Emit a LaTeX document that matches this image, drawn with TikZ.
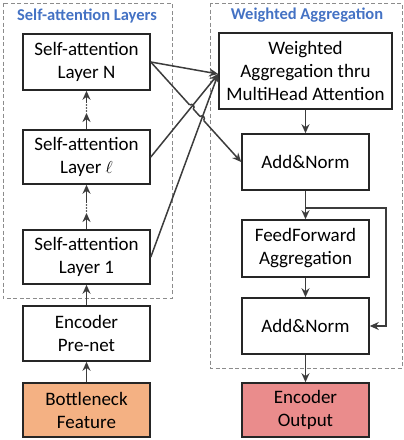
\documentclass[tikz,border=0pt]{standalone}
\usepackage{fontspec}
\setmainfont{Carlito}
\definecolor{hdblue}{RGB}{68,114,196}
\definecolor{bnorange}{RGB}{244,177,131}
\definecolor{outred}{RGB}{234,140,140}
\definecolor{lngray}{RGB}{60,60,60}
\definecolor{frgray}{RGB}{140,140,140}
\usetikzlibrary{arrows.meta,positioning,calc,intersections}
\begin{document}
\begin{tikzpicture}[x=1pt, y=-1pt,
  blk/.style={draw=black!85, line width=1.6pt, fill=white, minimum width=127pt, minimum height=56pt, inner sep=0pt, align=center, font=\fontsize{19}{23}\selectfont},
  conn/.style={draw=lngray, line width=1.5pt},
  arr/.style={conn, -{Stealth[length=9pt,width=8pt]}},
  frame/.style={draw=frgray, line width=0.8pt, dash pattern=on 4pt off 2.5pt},
  hdr/.style={text=hdblue, font=\fontsize{16.5}{20}\selectfont\bfseries}]
  \useasboundingbox (0,0) rectangle (404,440);
  \draw[frame] (3,3) rectangle (172,298);
  \draw[frame] (210,3) rectangle (402,368);
  \node[hdr] (hdL) at (87,16) {Self-attention Layers};
  \node[hdr] (hdR) at (307,15) {Weighted Aggregation};
  \node[blk] (saN) at (86.5,62) {Self-attention\\Layer N};
  \node[blk, minimum height=54pt] (saL) at (86.5,157) {Self-attention\\Layer \ensuremath{\ell}};
  \node[blk, minimum height=54pt] (sa1) at (86.5,257) {Self-attention\\Layer 1};
  \node[blk, minimum height=55pt] (prenet) at (86.5,333.5) {Encoder\\Pre-net};
  \node[blk, minimum height=54pt, fill=bnorange] (bneck) at (86.5,410) {Bottleneck\\Feature};
  \node[blk, minimum width=173pt, minimum height=76pt] (wagg) at (305.5,71) {Weighted\\Aggregation thru\\MultiHead Attention};
  \node[blk] (an1) at (305.5,162) {Add\&Norm};
  \node[blk, minimum height=57pt] (ff) at (305.5,248.5) {FeedForward\\Aggregation};
  \node[blk] (an2) at (305.5,326) {Add\&Norm};
  \node[blk, minimum height=54pt, fill=outred] (out) at (305.5,410) {Encoder\\Output};
  \coordinate (dLlo) at (86.5,113);
  \coordinate (dLhi) at (86.5,103);
  \coordinate (d1lo) at (86.5,213);
  \coordinate (d1hi) at (86.5,203);
  \draw[arr] (saL) -- (dLlo);
  \fill[lngray] (86.5,105) circle (0.8pt) (86.5,108) circle (0.8pt) (86.5,111) circle (0.8pt);
  \draw[arr] (dLhi) -- (saN);
  \draw[arr] (sa1) -- (d1lo);
  \fill[lngray] (86.5,205) circle (0.8pt) (86.5,208) circle (0.8pt) (86.5,211) circle (0.8pt);
  \draw[arr] (d1hi) -- (saL);
  \draw[arr] (prenet) -- (sa1);
  \draw[arr] (bneck) -- (prenet);
  \coordinate (wIn) at ($(wagg.west)+(0,3)$);
  \path[name path=lnN] (saN.east) -- (an1.west);
  \path[name path=lnL] (saL.east) -- (wIn);
  \path[name path=ln1] (sa1.east) -- (wIn);
  \path[name intersections={of=lnN and lnL, by=hopa}];
  \path[name intersections={of=lnN and ln1, by=hopb}];
  \draw[arr] (saN.east) -- (an1.west);
  \draw[white, line width=2.8pt] ($(hopa)!2.6pt!(saN.east)$) -- ($(hopa)!2.6pt!(an1.west)$);
  \draw[white, line width=2.8pt] ($(hopb)!2.6pt!(saN.east)$) -- ($(hopb)!2.6pt!(an1.west)$);
  \draw[conn] let \p1=($(an1.west)-(saN.east)$), \n1={atan2(\y1,\x1)} in
    ($(hopa)!2.6pt!(saN.east)$) arc[start angle=\n1+180, delta angle=-180, radius=2.6pt];
  \draw[conn] let \p1=($(an1.west)-(saN.east)$), \n1={atan2(\y1,\x1)} in
    ($(hopb)!2.6pt!(saN.east)$) arc[start angle=\n1+180, delta angle=-180, radius=2.6pt];
  \draw[arr] (saN.east) -- (wIn);
  \draw[arr] (saL.east) -- (wIn);
  \draw[arr] (sa1.east) -- (wIn);
  \draw[arr] (wagg) -- (an1);
  \draw[arr] (an1) -- (ff);
  \draw[arr] (ff) -- (an2);
  \draw[arr] (an2) -- (out);
  \coordinate (split) at ($(an1.south)+(0,17)$);
  \coordinate (rtx) at (386,0);
  \draw[arr] (split) -- (split -| rtx) -- (rtx |- an2.east) -- (an2.east);
\end{tikzpicture}
\end{document}
